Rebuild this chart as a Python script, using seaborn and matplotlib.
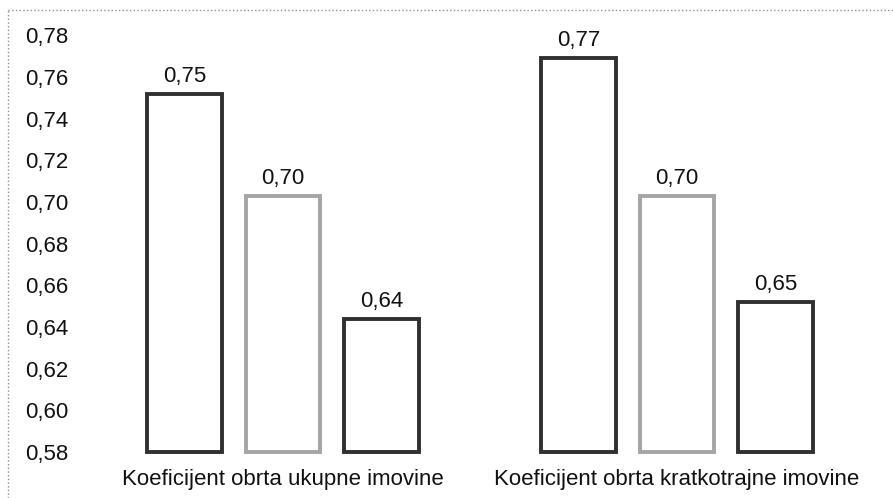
import pandas as pd
import matplotlib
matplotlib.use("Agg")
import matplotlib.pyplot as plt
from matplotlib.lines import Line2D
import seaborn as sns

# Data
categories = ["Koeficijent obrta ukupne imovine", "Koeficijent obrta kratkotrajne imovine"]
series = ["Serija 1", "Serija 2", "Serija 3"]
values_1 = [0.752, 0.769]
values_2 = [0.703, 0.703]
values_3 = [0.644, 0.652]
y_ticks = [0.58, 0.60, 0.62, 0.64, 0.66, 0.68, 0.70, 0.72, 0.74, 0.76, 0.78]

rows = []
for s, vals in zip(series, [values_1, values_2, values_3]):
    for c, v in zip(categories, vals):
        rows.append({"kategorija": c, "serija": s, "vrijednost": v})
df = pd.DataFrame(rows)

sns.set_style("white")
plt.rcParams["font.family"] = ["Liberation Sans", "DejaVu Sans"]

fig = plt.figure(figsize=(8.93, 4.98), dpi=100)
ax = fig.add_axes([0.0963, 0.0924, 0.8824, 0.837])

palette = ["#303030", "#a5a5a5", "#303030"]
sns.barplot(data=df, x="kategorija", y="vrijednost", hue="serija",
            palette=palette, fill=False, width=0.75, gap=0.24,
            linewidth=2.8, legend=False, ax=ax)

base = 0.58
ax.set_ylim(base, 0.78)
ax.set_xlim(-0.5, 1.5)

# make bars start at the axis bottom so the bottom edge shows
for p in ax.patches:
    top = p.get_y() + p.get_height()
    p.set_y(base)
    p.set_height(top - base)
    p.set_clip_on(False)

for cont in ax.containers:
    ax.bar_label(cont, labels=[f"{v:.2f}".replace(".", ",") for v in cont.datavalues],
                 padding=5, fontsize=16, color="#111111")

ax.set_yticks(y_ticks)
ax.set_yticklabels([f"{t:.2f}".replace(".", ",") for t in y_ticks])
ax.tick_params(axis="y", length=0, pad=13, labelsize=16, labelcolor="#111111")
ax.tick_params(axis="x", length=0, pad=12, labelsize=16, labelcolor="#111111")
ax.set_xlabel("")
ax.set_ylabel("")
for sp in ax.spines.values():
    sp.set_visible(False)

# dotted frame on top and left of the picture
fig.add_artist(Line2D([0.009, 1.0], [0.98, 0.98], transform=fig.transFigure,
                      color="#909090", linestyle=":", linewidth=1))
fig.add_artist(Line2D([0.009, 0.009], [0.0, 0.98], transform=fig.transFigure,
                      color="#909090", linestyle=":", linewidth=1))

fig.savefig("out.png", dpi=100)
